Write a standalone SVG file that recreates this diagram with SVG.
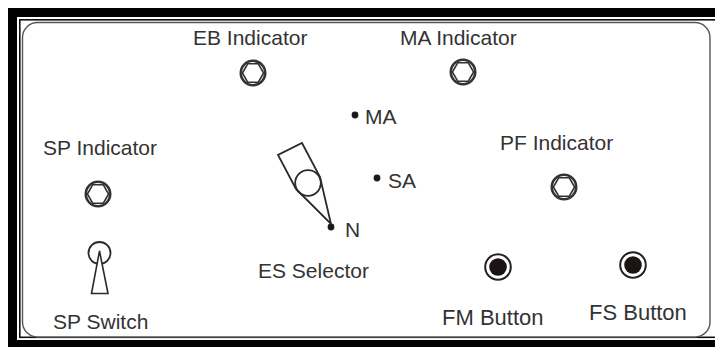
<svg xmlns="http://www.w3.org/2000/svg" xmlns:xlink="http://www.w3.org/1999/xlink" width="715" height="347" viewBox="0 0 715 347">
<style>
.lbl{font-family:"Liberation Sans",Arial,sans-serif;font-size:21px;fill:#333;}
.big{font-size:22px;}
.ln{fill:none;stroke:#2a2a2a;stroke-width:1.8;}
.ind{fill:none;stroke:#333;}
.dot{fill:#1a1a1a;}
</style>
<defs>
<g id="hexind">
<circle r="12.2" class="ind" stroke-width="2.6"/>
<polygon class="ind" stroke-width="1.6" points="10.6,0 5.3,9.2 -5.3,9.2 -10.6,0 -5.3,-9.2 5.3,-9.2"/>
</g>
</defs>
<g id="frame">
<rect x="8" y="8" width="707" height="339" fill="#000"/>
<rect x="17" y="17" width="698" height="323" fill="#fff"/>
<rect x="19.8" y="19.8" width="700" height="317.5" fill="none" stroke="#111" stroke-width="1.6"/>
<rect x="22.5" y="22.5" width="687.5" height="314.5" rx="15" fill="#fff" stroke="#555" stroke-width="1.4"/>
</g>
<g id="eb-indicator">
<use xlink:href="#hexind" x="253" y="73"/>
<text class="lbl" x="193" y="45">EB Indicator</text>
</g>
<g id="ma-indicator">
<use xlink:href="#hexind" x="463" y="72"/>
<text class="lbl" x="400" y="45">MA Indicator</text>
</g>
<g id="sp-indicator">
<use xlink:href="#hexind" x="98" y="194"/>
<text class="lbl" x="43" y="155">SP Indicator</text>
</g>
<g id="pf-indicator">
<use xlink:href="#hexind" x="564" y="187"/>
<text class="lbl" x="500" y="150">PF Indicator</text>
</g>
<g id="es-selector">
<polyline class="ln" points="296,189 278,155 302,143 320,177 331,224 296,189"/>
<circle class="ln" cx="308" cy="183" r="12.8"/>
<circle class="dot" cx="355" cy="115" r="3.4"/>
<text class="lbl" x="365" y="124">MA</text>
<circle class="dot" cx="377" cy="178" r="3.4"/>
<text class="lbl" x="388" y="188">SA</text>
<circle class="dot" cx="331" cy="227" r="3.4"/>
<text class="lbl" x="345" y="237">N</text>
<text class="lbl" x="258" y="278">ES Selector</text>
</g>
<g id="sp-switch">
<circle class="ln" cx="99.5" cy="253" r="11" stroke-width="1.6"/>
<polygon points="99.5,251 91.5,293.5 108,293.5" fill="#fff" stroke="#2a2a2a" stroke-width="1.6"/>
<text class="lbl" x="53" y="329">SP Switch</text>
</g>
<g id="fm-button">
<circle cx="498" cy="267" r="12.8" fill="none" stroke="#222" stroke-width="2"/>
<circle cx="498" cy="267" r="8.8" fill="#1c1414"/>
<text class="lbl big" x="442" y="325">FM Button</text>
</g>
<g id="fs-button">
<circle cx="633" cy="265" r="12.8" fill="none" stroke="#222" stroke-width="2"/>
<circle cx="633" cy="265" r="8.8" fill="#1c1414"/>
<text class="lbl big" x="589" y="320">FS Button</text>
</g>
</svg>
